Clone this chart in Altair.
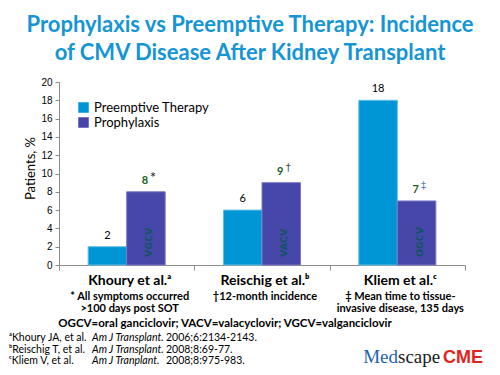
import altair as alt
import pandas as pd

# ---------------- data ----------------
studies = ["Khoury et al.", "Reischig et al.", "Kliem et al."]
study_sup = ["ᵃ", "ᵇ", "ᶜ"]
series_names = ["Preemptive Therapy", "Prophylaxis"]
preemptive = [2, 6, 18]
prophylaxis = [8, 9, 7]
drugs = ["VGCV", "VACV", "OGCV"]
flags = ["*", "†", "‡"]
note_line1 = ["* All symptoms occurred", "†12-month incidence", "‡ Mean time to tissue-"]
note_line2 = [">100 days post SOT", "", "invasive disease, 135 days"]
y_ticks = [0, 2, 4, 6, 8, 10, 12, 14, 16, 18, 20]
title_lines = ["Prophylaxis vs Preemptive Therapy: Incidence",
               "of CMV Disease After Kidney Transplant"]
abbrev = "OGCV=oral ganciclovir; VACV=valacyclovir; VGCV=valganciclovir"
ref_authors = ["ᵃKhoury JA, et al.", "ᵇReischig T, et al.", "ᶜKliem V, et al."]
ref_journals = ["Am J Transplant.", "Am J Transplant.", "Am J Tranplant."]
ref_cites = ["2006;6:2134-2143.", "2008;8:69-77.", "2008;8:975-983."]
logo_parts = ["Med", "scape", "CME"]

# ---------------- tables ----------------
bars_df = pd.DataFrame({
    "study": studies * 2,
    "series": [series_names[0]] * 3 + [series_names[1]] * 3,
    "value": preemptive + prophylaxis,
})
pre_df = pd.DataFrame({"study": studies, "series": series_names[0], "value": preemptive})
pro_df = pd.DataFrame({"study": studies, "series": series_names[1], "value": prophylaxis,
                       "drug": drugs, "flag": flags})
lab_df = pd.DataFrame({
    "study": studies,
    "label": [s + u for s, u in zip(studies, study_sup)],
    "note": [[a, b] if b else [a] for a, b in zip(note_line1, note_line2)],
})
one = pd.DataFrame({"k": [0]})

FONT = "Lato, 'DejaVu Sans', sans-serif"
C_PRE = "#0095d4"
C_PRO = "#4747a9"
GREEN = "#1d5e22"

x_enc = alt.X("study:N", sort=studies,
              scale=alt.Scale(domain=studies, paddingInner=0, paddingOuter=0),
              axis=alt.Axis(labels=False, title=None, tickBand="extent", tickSize=5,
                            tickColor="#8c8c8c", domainColor="#8c8c8c", grid=False))
xo_enc = alt.XOffset("series:N", sort=series_names,
                     scale=alt.Scale(domain=series_names, paddingInner=0, paddingOuter=0.757))
y_enc = alt.Y("value:Q", scale=alt.Scale(domain=[0, 20], nice=False),
              axis=alt.Axis(values=y_ticks, title="Patients, %", grid=False,
                            labelFont="Liberation Sans", labelFontSize=10, labelColor="black",
                            labelPadding=3, tickSize=4, tickColor="#8c8c8c",
                            domainColor="#8c8c8c",
                            titleFont=FONT, titleFontSize=13, titleFontWeight="normal",
                            titleColor="black", titleAngle=270, titleAlign="center",
                            titleBaseline="middle", titleX=-29, titleY=86))

bars = alt.Chart(bars_df).mark_bar(strokeWidth=1).encode(
    x=x_enc, xOffset=xo_enc, y=y_enc,
    color=alt.Color("series:N", sort=series_names,
                    scale=alt.Scale(domain=series_names, range=[C_PRE, C_PRO]),
                    legend=alt.Legend(title=None, orient="none", legendX=18, legendY=19,
                                      symbolType="square", symbolSize=110,
                                      symbolStrokeWidth=0, labelFont=FONT,
                                      labelFontSize=13, labelColor="black",
                                      rowPadding=1, labelOffset=4)),
    stroke=alt.Stroke("series:N", sort=series_names,
                      scale=alt.Scale(domain=series_names, range=["#62bfe6", "#7a7ac4"]),
                      legend=None),
)

pre_lab = alt.Chart(pre_df).mark_text(font=FONT, fontSize=11, color="black",
                                      baseline="alphabetic", dy=-8).encode(
    x=x_enc, xOffset=xo_enc, y=y_enc, text="value:Q")

pro_lab = alt.Chart(pro_df).mark_text(font=FONT, fontSize=11, fontWeight="bold", color=GREEN,
                                      baseline="alphabetic", dy=-8, dx=-1).encode(
    x=x_enc, xOffset=xo_enc, y=y_enc, text="value:Q")

pro_flag = alt.Chart(pro_df).mark_text(font="DejaVu Sans", fontSize=10, baseline="alphabetic",
                                       dy=-12, dx=7).encode(
    x=x_enc, xOffset=xo_enc, y=y_enc, text="flag:N",
    color=alt.Color("flag:N", sort=flags,
                    scale=alt.Scale(domain=flags, range=["black", "#444444", "#5d7fb0"]),
                    legend=None))

drug_lab = alt.Chart(pro_df).mark_text(font="DejaVu Sans", fontSize=9.5, fontWeight="bold",
                                       color="#0f5560", angle=270, align="left",
                                       baseline="middle", dy=3).encode(
    x=x_enc, xOffset=xo_enc, y=alt.value(175), text="drug:N")

study_lab = alt.Chart(lab_df).mark_text(font=FONT, fontSize=14, fontWeight="bold",
                                        color="black", baseline="top", dx=3).encode(
    x=x_enc, y=alt.value(192), text="label:N")

note_lab = alt.Chart(lab_df).mark_text(font=FONT, fontSize=11, fontWeight="bold",
                                       color="black", baseline="top", lineHeight=12, dx=3).encode(
    x=x_enc, y=alt.value(209), text="note")

title_lab = alt.Chart(one).mark_text(text=title_lines, font=FONT, fontSize=22, fontWeight="bold",
                                     color="#1595d3", align="center", baseline="top",
                                     lineHeight=28).encode(x=alt.value(191), y=alt.value(-67))

abbrev_lab = alt.Chart(one).mark_text(text=abbrev, font=FONT, fontSize=11.5, fontWeight="bold",
                                      color="black", align="center", baseline="top").encode(
    x=alt.value(166), y=alt.value(236))

ref_a = alt.Chart(one).mark_text(text=ref_authors, font=FONT, fontSize=10.5, color="black",
                                 align="left", baseline="top", lineHeight=11.5).encode(
    x=alt.value(-50), y=alt.value(251))
ref_j = alt.Chart(one).mark_text(text=ref_journals, font=FONT, fontSize=10.5, fontStyle="italic",
                                 color="black", align="left", baseline="top",
                                 lineHeight=11.5).encode(x=alt.value(33), y=alt.value(251))
ref_c = alt.Chart(one).mark_text(text=ref_cites, font=FONT, fontSize=10.5, color="black",
                                 align="left", baseline="top", lineHeight=11.5).encode(
    x=alt.value(107), y=alt.value(251))

logo1 = alt.Chart(one).mark_text(text=logo_parts[0], font="Liberation Serif", fontSize=19,
                                 color="#1f63ad", align="right", baseline="alphabetic").encode(
    x=alt.value(339), y=alt.value(281))
logo2 = alt.Chart(one).mark_text(text=logo_parts[1], font="Liberation Serif", fontSize=19,
                                 color="#1a1a1a", align="left", baseline="alphabetic").encode(
    x=alt.value(339), y=alt.value(281))
logo3 = alt.Chart(one).mark_text(text=logo_parts[2], font="Liberation Sans", fontSize=18,
                                 fontWeight="bold", color="#e2231a", align="left",
                                 baseline="alphabetic").encode(
    x=alt.value(384), y=alt.value(281))

chart = alt.layer(
    bars, pre_lab, pro_lab, pro_flag, drug_lab, study_lab, note_lab,
    title_lab, abbrev_lab, ref_a, ref_j, ref_c, logo1, logo2, logo3,
).resolve_scale(color="independent").properties(
    width=406, height=183,
    autosize=alt.AutoSizeParams(type="none"),
    padding={"left": 51, "top": 74, "right": 27, "bottom": 102},
    background="white",
).configure_view(stroke=None)

chart.save("out.html", embed_options={"renderer": "svg", "actions": False})
